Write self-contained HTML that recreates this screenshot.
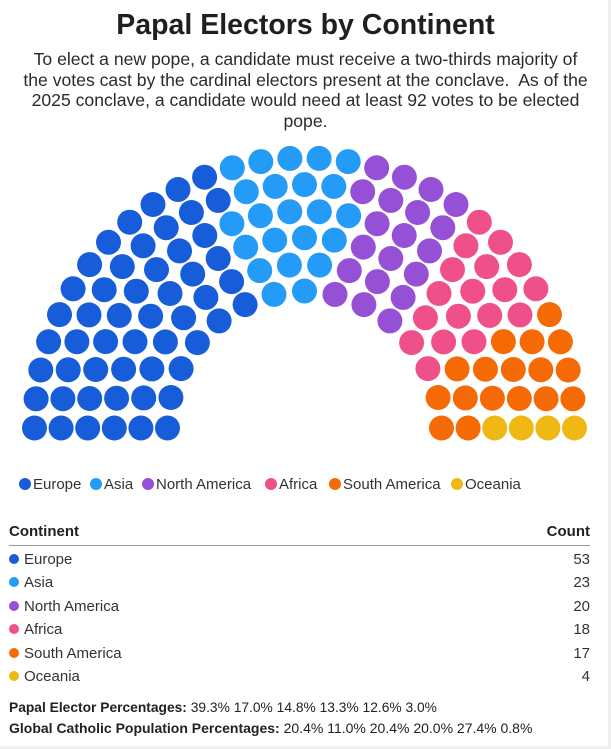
<!DOCTYPE html>
<html><head><meta charset="utf-8"><style>
body{margin:0;width:611px;height:749px;background:#fff;font-family:"Liberation Sans",sans-serif;color:#222;position:relative;overflow:hidden}
.a{position:absolute;white-space:nowrap}
h1{position:absolute;top:9px;left:0;width:611px;margin:0;text-align:center;font-size:28.5px;font-weight:bold;color:#1f1f1f}
.sub{position:absolute;top:49px;left:0;width:611px;text-align:center;font-size:17.6px;line-height:20.5px;color:#2a2a2a;white-space:nowrap}
.lg{position:absolute;top:476px;font-size:15px;color:#333}
.d{display:inline-block;width:12px;height:12px;border-radius:50%;vertical-align:-1px;margin-right:2px}
.row{position:absolute;left:9px;width:581px;font-size:15px;color:#333}
.row .c{position:absolute;right:0}
.sd{display:inline-block;width:10px;height:10px;border-radius:50%;margin-right:5px;vertical-align:0px}
</style></head><body>
<div style="position:absolute;right:0;top:0;width:3px;height:749px;background:#eee"></div>
<div style="position:absolute;left:0;bottom:0;width:611px;height:3px;background:#eee"></div>
<h1>Papal Electors by Continent</h1>
<div class="sub">To elect a new pope, a candidate must receive a two-thirds majority of<br>the votes cast by the cardinal electors present at the conclave.&nbsp; As of the<br>2025 conclave, a candidate would need at least 92 votes to be elected<br>pope.</div>
<svg id="s" width="611" height="749" style="position:absolute;left:0;top:0"></svg>
<div class="lg" style="left:19px"><span class="d" style="background:#175cd8"></span>Europe</div>
<div class="lg" style="left:90px"><span class="d" style="background:#239bf7"></span>Asia</div>
<div class="lg" style="left:142px"><span class="d" style="background:#9650d6"></span>North America</div>
<div class="lg" style="left:265px"><span class="d" style="background:#f0508a"></span>Africa</div>
<div class="lg" style="left:329px"><span class="d" style="background:#f56a05"></span>South America</div>
<div class="lg" style="left:451px"><span class="d" style="background:#efb815"></span>Oceania</div>
<div class="row" style="top:523px;font-weight:bold;color:#222">Continent<span class="c">Count</span></div>
<div style="position:absolute;left:9px;top:545px;width:581px;height:1px;background:#999"></div>
<div class="row" style="top:551px"><span class="sd" style="background:#175cd8"></span>Europe<span class="c">53</span></div>
<div class="row" style="top:574px"><span class="sd" style="background:#239bf7"></span>Asia<span class="c">23</span></div>
<div class="row" style="top:598px"><span class="sd" style="background:#9650d6"></span>North America<span class="c">20</span></div>
<div class="row" style="top:621px"><span class="sd" style="background:#f0508a"></span>Africa<span class="c">18</span></div>
<div class="row" style="top:645px"><span class="sd" style="background:#f56a05"></span>South America<span class="c">17</span></div>
<div class="row" style="top:668px"><span class="sd" style="background:#efb815"></span>Oceania<span class="c">4</span></div>
<div class="a" style="left:9px;top:700px;font-size:13.8px;color:#222"><b>Papal Elector Percentages:</b> 39.3% 17.0% 14.8% 13.3% 12.6% 3.0%</div>
<div class="a" style="left:9px;top:720px;font-size:14px;color:#222"><b>Global Catholic Population Percentages:</b> 20.4% 11.0% 20.4% 20.0% 27.4% 0.8%</div>
<script>
var cx=304.5,cy=428,rs=[137,163.6,190.2,216.8,243.4,270],ns=[15,18,21,24,27,30],seats=[];
rs.forEach(function(r,i){var n=ns[i];for(var k=0;k<n;k++){var a=Math.PI-Math.PI*k/(n-1);seats.push({a:a,r:r,i:i});}});
seats.sort(function(p,q){return Math.abs(q.a-p.a)>1e-9?q.a-p.a:p.i-q.i;});
var cols=[["#175cd8",53],["#239bf7",23],["#9650d6",20],["#f0508a",18],["#f56a05",17],["#efb815",4]],list=[];
cols.forEach(function(c){for(var j=0;j<c[1];j++)list.push(c[0]);});
var h="";seats.forEach(function(s,j){h+='<circle cx="'+(cx+s.r*Math.cos(s.a)).toFixed(1)+'" cy="'+(cy-s.r*Math.sin(s.a)).toFixed(1)+'" r="12.5" fill="'+list[j]+'"/>';});
document.getElementById("s").innerHTML=h;
</script>
</body></html>
